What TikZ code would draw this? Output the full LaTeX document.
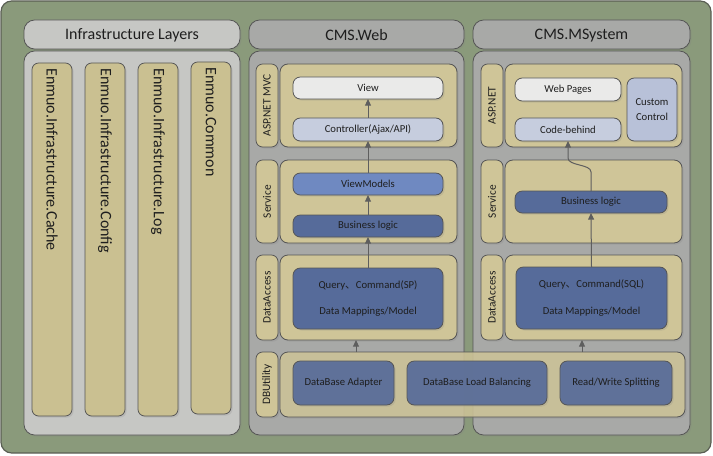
\documentclass[tikz,border=0pt]{standalone}
\usepackage{fontspec}
\setmainfont{Carlito}
\newfontfamily\cjk{Noto Sans CJK SC}
\usetikzlibrary{shadows,arrows.meta,calc}
\definecolor{bggreen}{HTML}{8A9A7B}
\definecolor{frameline}{HTML}{595E53}
\definecolor{cInfra}{HTML}{C6C7C4}
\definecolor{cCms}{HTML}{A8A9A7}
\definecolor{cTan}{HTML}{CFC598}
\definecolor{cCol}{HTML}{CAC091}
\definecolor{cDark}{HTML}{566B9A}
\definecolor{cMid}{HTML}{6F89C1}
\definecolor{cLight}{HTML}{C6CDDE}
\definecolor{cCustom}{HTML}{B8C1D8}
\definecolor{cWhite}{HTML}{EAEAE9}
\definecolor{cEdge}{HTML}{555555}
\definecolor{cArrow}{HTML}{5E5E5E}
\definecolor{cText}{HTML}{1E1E1E}
\begin{document}
\begin{tikzpicture}[x=0.75pt,y=-0.75pt,
  bx/.style n args={4}{at={({(#1+#3)/2},{(#2+#4)/2})}, anchor=center,
     minimum width={(#3-#1)*0.75pt}, minimum height={(#4-#2)*0.75pt}},
  base/.style={draw=cEdge, line width=0.6pt, inner sep=0pt, outer sep=0pt, text=cText},
  shd/.style={drop shadow={opacity=0.2, shadow xshift=1.2pt, shadow yshift=-1.2pt}},
  hdr/.style={base, shd, rounded corners=8pt, text depth=0pt, font=\fontsize{12}{14}\selectfont},
  bodybox/.style={base, shd, rounded corners=8pt},
  panel/.style={base, shd, fill=cTan, rounded corners=6pt},
  sidelbl/.style={base, shd, fill=cTan, rounded corners=5pt},
  sidetxt/.style={rotate=90, anchor=center, inner sep=0pt, font=\fontsize{8.5}{10}\selectfont, text=cText},
  colbox/.style={base, shd, fill=cCol, rounded corners=5pt},
  coltxt/.style={rotate=-90, anchor=west, inner sep=0pt, xshift=4pt, font=\fontsize{12}{14}\selectfont, text=cText},
  box/.style={base, shd, rounded corners=5.5pt, font=\fontsize{8}{10}\selectfont, align=center},
  arr/.style={draw=cArrow, line width=0.75pt, -{Triangle[length=5pt,width=4.5pt]}}
]
\useasboundingbox (0,0) rectangle (713,456);
% outer frame
\node[bx={1}{1}{711}{453}, draw=frameline, fill=bggreen, rounded corners=8pt, line width=0.9pt, inner sep=0pt] (frame) {};

% Infrastructure
\node[hdr, fill=cInfra, bx={24}{20}{240}{49}] (ihdr) {Infrastructure Layers};
\node[bodybox, fill=cInfra, bx={24}{51}{240}{435}] (ibody) {};
\node[colbox, bx={32}{63}{72}{416}, label={[coltxt]north:Enmuo.Infrastructure.Cache}] (c1) {};
\node[colbox, bx={85}{63}{125}{416}, label={[coltxt]north:Enmuo.Infrastructure.Config}] (c2) {};
\node[colbox, bx={138}{63}{178}{416}, label={[coltxt]north:Enmuo.Infrastructure.Log}] (c3) {};
\node[colbox, bx={191}{62}{231}{414}, label={[coltxt]north:Enmuo.Common}] (c4) {};

% CMS.Web
\node[hdr, fill=cCms, bx={249}{20}{464}{49}] (whdr) {CMS.Web};
\node[bodybox, fill=cCms, bx={249}{51}{464}{435}] (wbody) {};
% CMS.MSystem
\node[hdr, fill=cCms, bx={473}{20}{690}{49}] (mhdr) {CMS.MSystem};
\node[bodybox, fill=cCms, bx={473}{51}{690}{435}] (mbody) {};

% Web layers
\node[sidelbl, bx={256}{64}{278}{147}, label={[sidetxt]center:ASP.NET MVC}] (wl1) {};
\node[panel, bx={280}{64}{457}{147}] (wp1) {};
\node[sidelbl, bx={256}{160}{278}{243}, label={[sidetxt]center:Service}] (wl2) {};
\node[panel, bx={280}{160}{457}{243}] (wp2) {};
\node[sidelbl, bx={256}{255}{278}{340}, label={[sidetxt]center:DataAccess}] (wl3) {};
\node[panel, bx={280}{255}{457}{340}] (wp3) {};
\node[sidelbl, bx={256}{352}{278}{417}, label={[sidetxt]center:DBUtility}] (wl4) {};

\node[box, fill=cWhite, bx={293}{77}{443}{99}] (wview) {View};
\node[box, fill=cLight, bx={293}{118}{443}{141}] (wctrl) {Controller(Ajax/API)};
\node[box, fill=cMid, bx={293}{173}{443}{195}] (wvm) {ViewModels};
\node[box, fill=cDark, bx={293}{215}{443}{237}] (wbl) {Business logic};
\node[box, fill=cDark, bx={293}{268}{443}{329}] (wq) {Query{\cjk 、}Command(SP)\\[10pt]Data Mappings/Model};

% MSystem layers
\node[sidelbl, bx={481}{64}{503}{147}, label={[sidetxt]center:ASP.NET}] (ml1) {};
\node[panel, bx={505}{64}{682}{147}] (mp1) {};
\node[sidelbl, bx={481}{160}{503}{243}, label={[sidetxt]center:Service}] (ml2) {};
\node[panel, bx={505}{160}{682}{243}] (mp2) {};
\node[sidelbl, bx={481}{255}{503}{340}, label={[sidetxt]center:DataAccess}] (ml3) {};
\node[panel, bx={505}{255}{682}{340}] (mp3) {};

\node[box, fill=cWhite, bx={515}{78}{621}{101}] (mweb) {Web Pages};
\node[box, fill=cLight, bx={515}{118}{621}{141}] (mcb) {Code-behind};
\node[box, fill=cCustom, bx={627}{78}{677}{141}] (mcc) {Custom\\[1pt]Control};
\node[box, fill=cDark, bx={515}{191}{667}{213}] (mbl) {Business logic};
\node[box, fill=cDark, bx={516}{267}{667}{329}] (mq) {Query{\cjk 、}Command(SQL)\\[10pt]Data Mappings/Model};

% DBUtility shared panel
\node[panel, fill opacity=0.85, text opacity=1, bx={280}{352}{685}{417}] (dbp) {};
\node[box, fill=cDark, fill opacity=0.9, text opacity=1, bx={293}{361}{394}{405}] (dba) {DataBase Adapter};
\node[box, fill=cDark, fill opacity=0.9, text opacity=1, bx={407}{361}{547}{405}] (dblb) {DataBase Load Balancing};
\node[box, fill=cDark, fill opacity=0.9, text opacity=1, bx={560}{361}{672}{405}] (dbrw) {Read/Write Splitting};

% arrows web
\draw[arr] (wctrl.north) -- (wview.south);
\draw[arr] (wvm.north) -- (wctrl.south);
\draw[arr] (wbl.north) -- (wvm.south);
\draw[arr] (wq.north) -- (wbl.south);
\coordinate (wtap) at (356,352);
\draw[arr] (wtap) -- (wp3.south -| wtap);
% arrows msystem
\draw[arr] (mq.north) -- (mbl.south);
\draw[arr] (mbl.north) -- ($(mbl.north)+(0,-19)$) .. controls ($(mbl.north)+(0,-27)$) and ($(mcb.south)+(0,25)$) .. ($(mcb.south)+(0,17)$) -- (mcb.south);
\coordinate (mtap) at (582,352);
\draw[arr] (mtap) -- (mp3.south -| mtap);
\end{tikzpicture}
\end{document}
